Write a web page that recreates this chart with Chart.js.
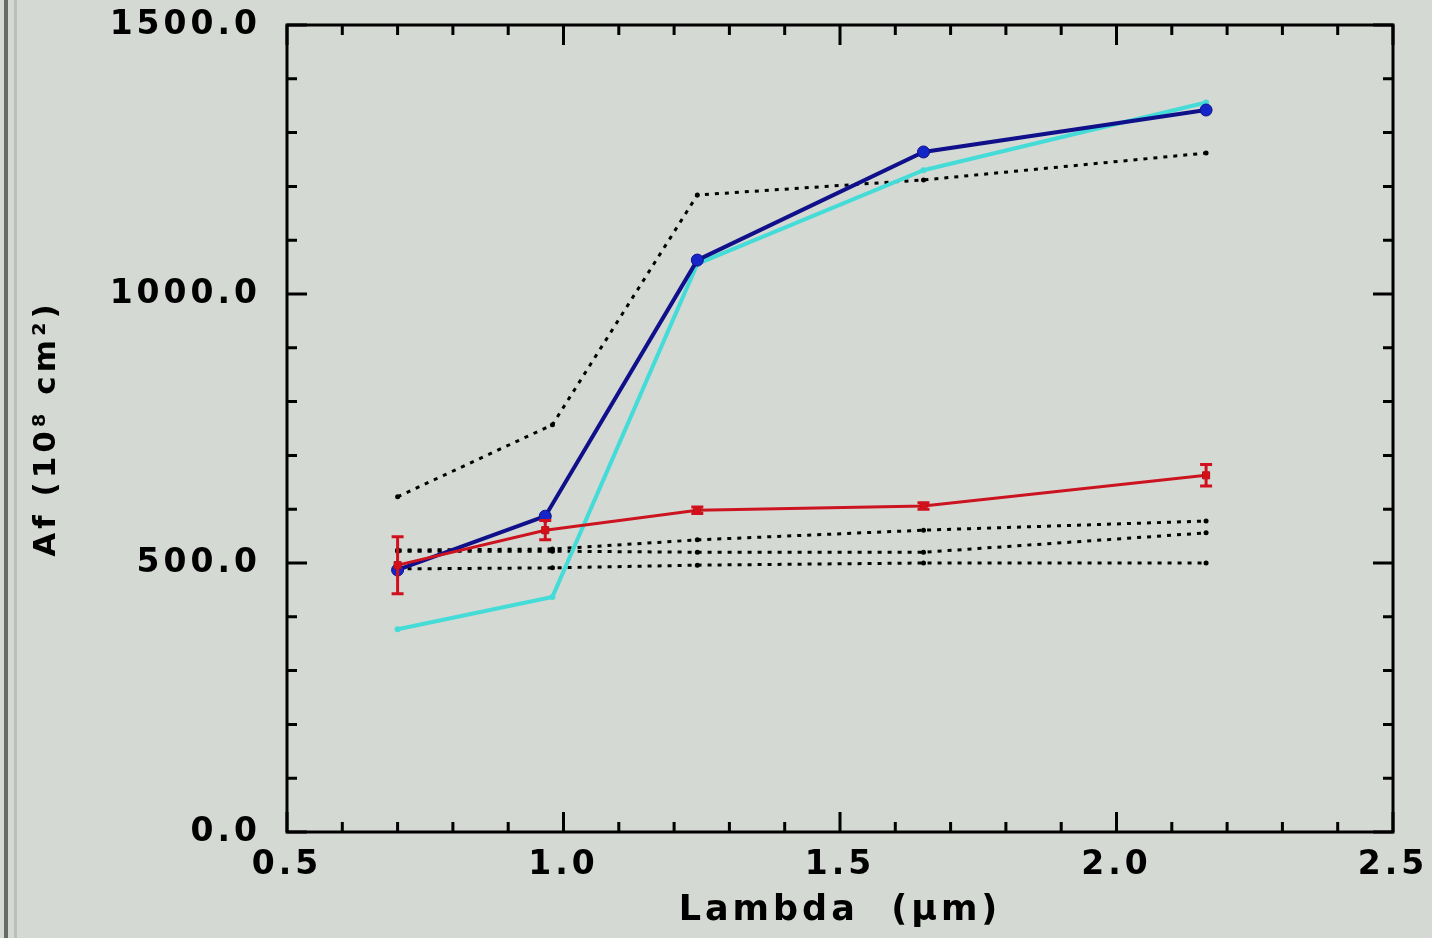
<!DOCTYPE html>
<html><head><meta charset="utf-8">
<script src="https://cdn.jsdelivr.net/npm/chart.js@4.4.1/dist/chart.umd.min.js"></script>
<style>html,body{margin:0;padding:0;background:#d5d9d4;overflow:hidden}canvas{display:block}</style>
</head><body><canvas id="c" width="1432" height="938"></canvas>
<script>
// ---- data ----
const lambdas     = [0.70, 0.967, 1.242, 1.651, 2.162];
const cyanLambdas = [0.70, 0.98, 1.242, 1.651, 2.162];
const dotLambdas  = [0.70, 0.98, 1.242, 1.651, 2.162];
const navyAf  = [487, 587, 1063, 1264, 1342];
const cyanAf  = [377, 437, 1056, 1230, 1356];
const redAf   = [496, 561, 598, 606, 663];
const redErr  = [53, 18, 6, 6, 20];
const dotUpper = [623, 757, 1184, 1212, 1262];
const dotA     = [524, 526, 543, 561, 578];
const dotB     = [522, 522, 520, 520, 556];
const dotC     = [489, 491, 496, 500, 500];
const xTicks = [0.5, 1.0, 1.5, 2.0, 2.5];
const yTicks = [0, 500, 1000, 1500];
const xMinorStep = 0.1, yMinorStep = 100;

const pts = (xs, ys) => xs.map((x, i) => ({x, y: ys[i]}));
const FONT = {family: 'DejaVu Sans', weight: 'bold', size: 33};

const bgPlugin = {
  id: 'bg',
  afterInit(chart){ chart.ctx.letterSpacing = '4px'; },
  beforeDraw(chart){
    const ctx = chart.ctx;
    ctx.letterSpacing = '4px';
    ctx.save();
    ctx.fillStyle = '#d5d9d4';
    ctx.fillRect(0, 0, chart.width, chart.height);
    ctx.fillStyle = '#676b67';
    ctx.fillRect(4, 0, 4, chart.height);
    ctx.fillStyle = '#bcc0bb';
    ctx.fillRect(14, 0, 3, chart.height);
    ctx.restore();
  }
};

const errPlugin = {
  id: 'err',
  afterDatasetsDraw(chart){
    const {ctx, scales: {x, y}} = chart;
    ctx.save();
    ctx.strokeStyle = '#d0101c';
    ctx.lineWidth = 3;
    lambdas.forEach((l, i) => {
      const px = x.getPixelForValue(l);
      const y1 = y.getPixelForValue(redAf[i] + redErr[i]);
      const y2 = y.getPixelForValue(redAf[i] - redErr[i]);
      ctx.beginPath();
      ctx.moveTo(px, y1); ctx.lineTo(px, y2);
      ctx.moveTo(px - 6, y1); ctx.lineTo(px + 6, y1);
      ctx.moveTo(px - 6, y2); ctx.lineTo(px + 6, y2);
      ctx.stroke();
    });
    ctx.restore();
  }
};

const framePlugin = {
  id: 'frame',
  afterDraw(chart){
    const {ctx, chartArea: a, scales: {x, y}} = chart;
    ctx.save();
    ctx.strokeStyle = '#000';
    ctx.lineWidth = 3;
    ctx.strokeRect(a.left, a.top, a.right - a.left, a.bottom - a.top);
    ctx.beginPath();
    const nx = Math.round((x.max - x.min) / xMinorStep);
    for (let i = 0; i <= nx; i++) {
      const v = x.min + i * xMinorStep;
      const major = xTicks.some(t => Math.abs(t - v) < 1e-6);
      const len = major ? 20 : 10;
      const px = x.getPixelForValue(v);
      ctx.moveTo(px, a.bottom); ctx.lineTo(px, a.bottom - len);
      ctx.moveTo(px, a.top); ctx.lineTo(px, a.top + len);
    }
    const ny = Math.round((y.max - y.min) / yMinorStep);
    for (let i = 0; i <= ny; i++) {
      const v = y.min + i * yMinorStep;
      const major = yTicks.some(t => Math.abs(t - v) < 1e-6);
      const len = major ? 20 : 10;
      const py = y.getPixelForValue(v);
      ctx.moveTo(a.left, py); ctx.lineTo(a.left + len, py);
      ctx.moveTo(a.right, py); ctx.lineTo(a.right - len, py);
    }
    ctx.stroke();
    ctx.restore();
  }
};

const dotted = (data, order) => ({
  data, order,
  borderColor: '#000', borderWidth: 3, borderDash: [4, 6],
  pointRadius: 2.5, pointBackgroundColor: '#000', pointBorderWidth: 0,
  tension: 0, fill: false
});

new Chart(document.getElementById('c'), {
  type: 'line',
  data: {
    datasets: [
      { data: pts(lambdas, redAf), order: 0,
        borderColor: '#cc1420', borderWidth: 3,
        pointStyle: 'rect', pointRadius: 5, pointBackgroundColor: '#e01010', pointBorderColor: '#b01018', pointBorderWidth: 1 },
      { data: pts(lambdas, navyAf), order: 1,
        borderColor: '#10108a', borderWidth: 4,
        pointRadius: 6, pointBackgroundColor: '#1426c8', pointBorderColor: '#10108a', pointBorderWidth: 1 },
      { data: pts(cyanLambdas, cyanAf), order: 2,
        borderColor: '#45dcd8', borderWidth: 4,
        pointRadius: 3, pointBackgroundColor: '#45dcd8', pointBorderWidth: 0 },
      dotted(pts(dotLambdas, dotUpper), 3),
      dotted(pts(dotLambdas, dotA), 4),
      dotted(pts(dotLambdas, dotB), 5),
      dotted(pts(dotLambdas, dotC), 6)
    ]
  },
  options: {
    responsive: false,
    animation: false,
    layout: {padding: {left: 18, top: 25, right: 39, bottom: 6}},
    plugins: {legend: {display: false}, tooltip: {enabled: false}},
    scales: {
      x: {
        type: 'linear', min: 0.5, max: 2.5,
        afterBuildTicks: s => { s.ticks = xTicks.map(v => ({value: v})); },
        afterFit: s => { s.height = 938 - 832 - 6; s.paddingLeft = 0; s.paddingRight = 0; },
        grid: {display: false, drawTicks: false},
        border: {display: false},
        ticks: {color: '#000', font: FONT, padding: 14, maxRotation: 0,
                callback: v => v.toFixed(1)},
        title: {display: true, text: 'Lambda  (μm)', color: '#000',
                font: {family: 'DejaVu Sans', weight: 'bold', size: 35}, padding: {top: 0, bottom: 0}}
      },
      y: {
        type: 'linear', min: 0, max: 1500,
        afterBuildTicks: s => { s.ticks = yTicks.map(v => ({value: v})); },
        afterFit: s => { s.width = 287 - 18; s.paddingTop = 0; s.paddingBottom = 0; },
        grid: {display: false, drawTicks: false},
        border: {display: false},
        ticks: {color: '#000', font: FONT, padding: 26,
                callback: v => v.toFixed(1)},
        title: {display: true, text: 'Af (10⁸ cm²)', color: '#000',
                font: {family: 'DejaVu Sans', weight: 'bold', size: 31}, padding: {top: 10, bottom: 0}}
      }
    }
  },
  plugins: [bgPlugin, errPlugin, framePlugin]
});
</script>
</body></html>
